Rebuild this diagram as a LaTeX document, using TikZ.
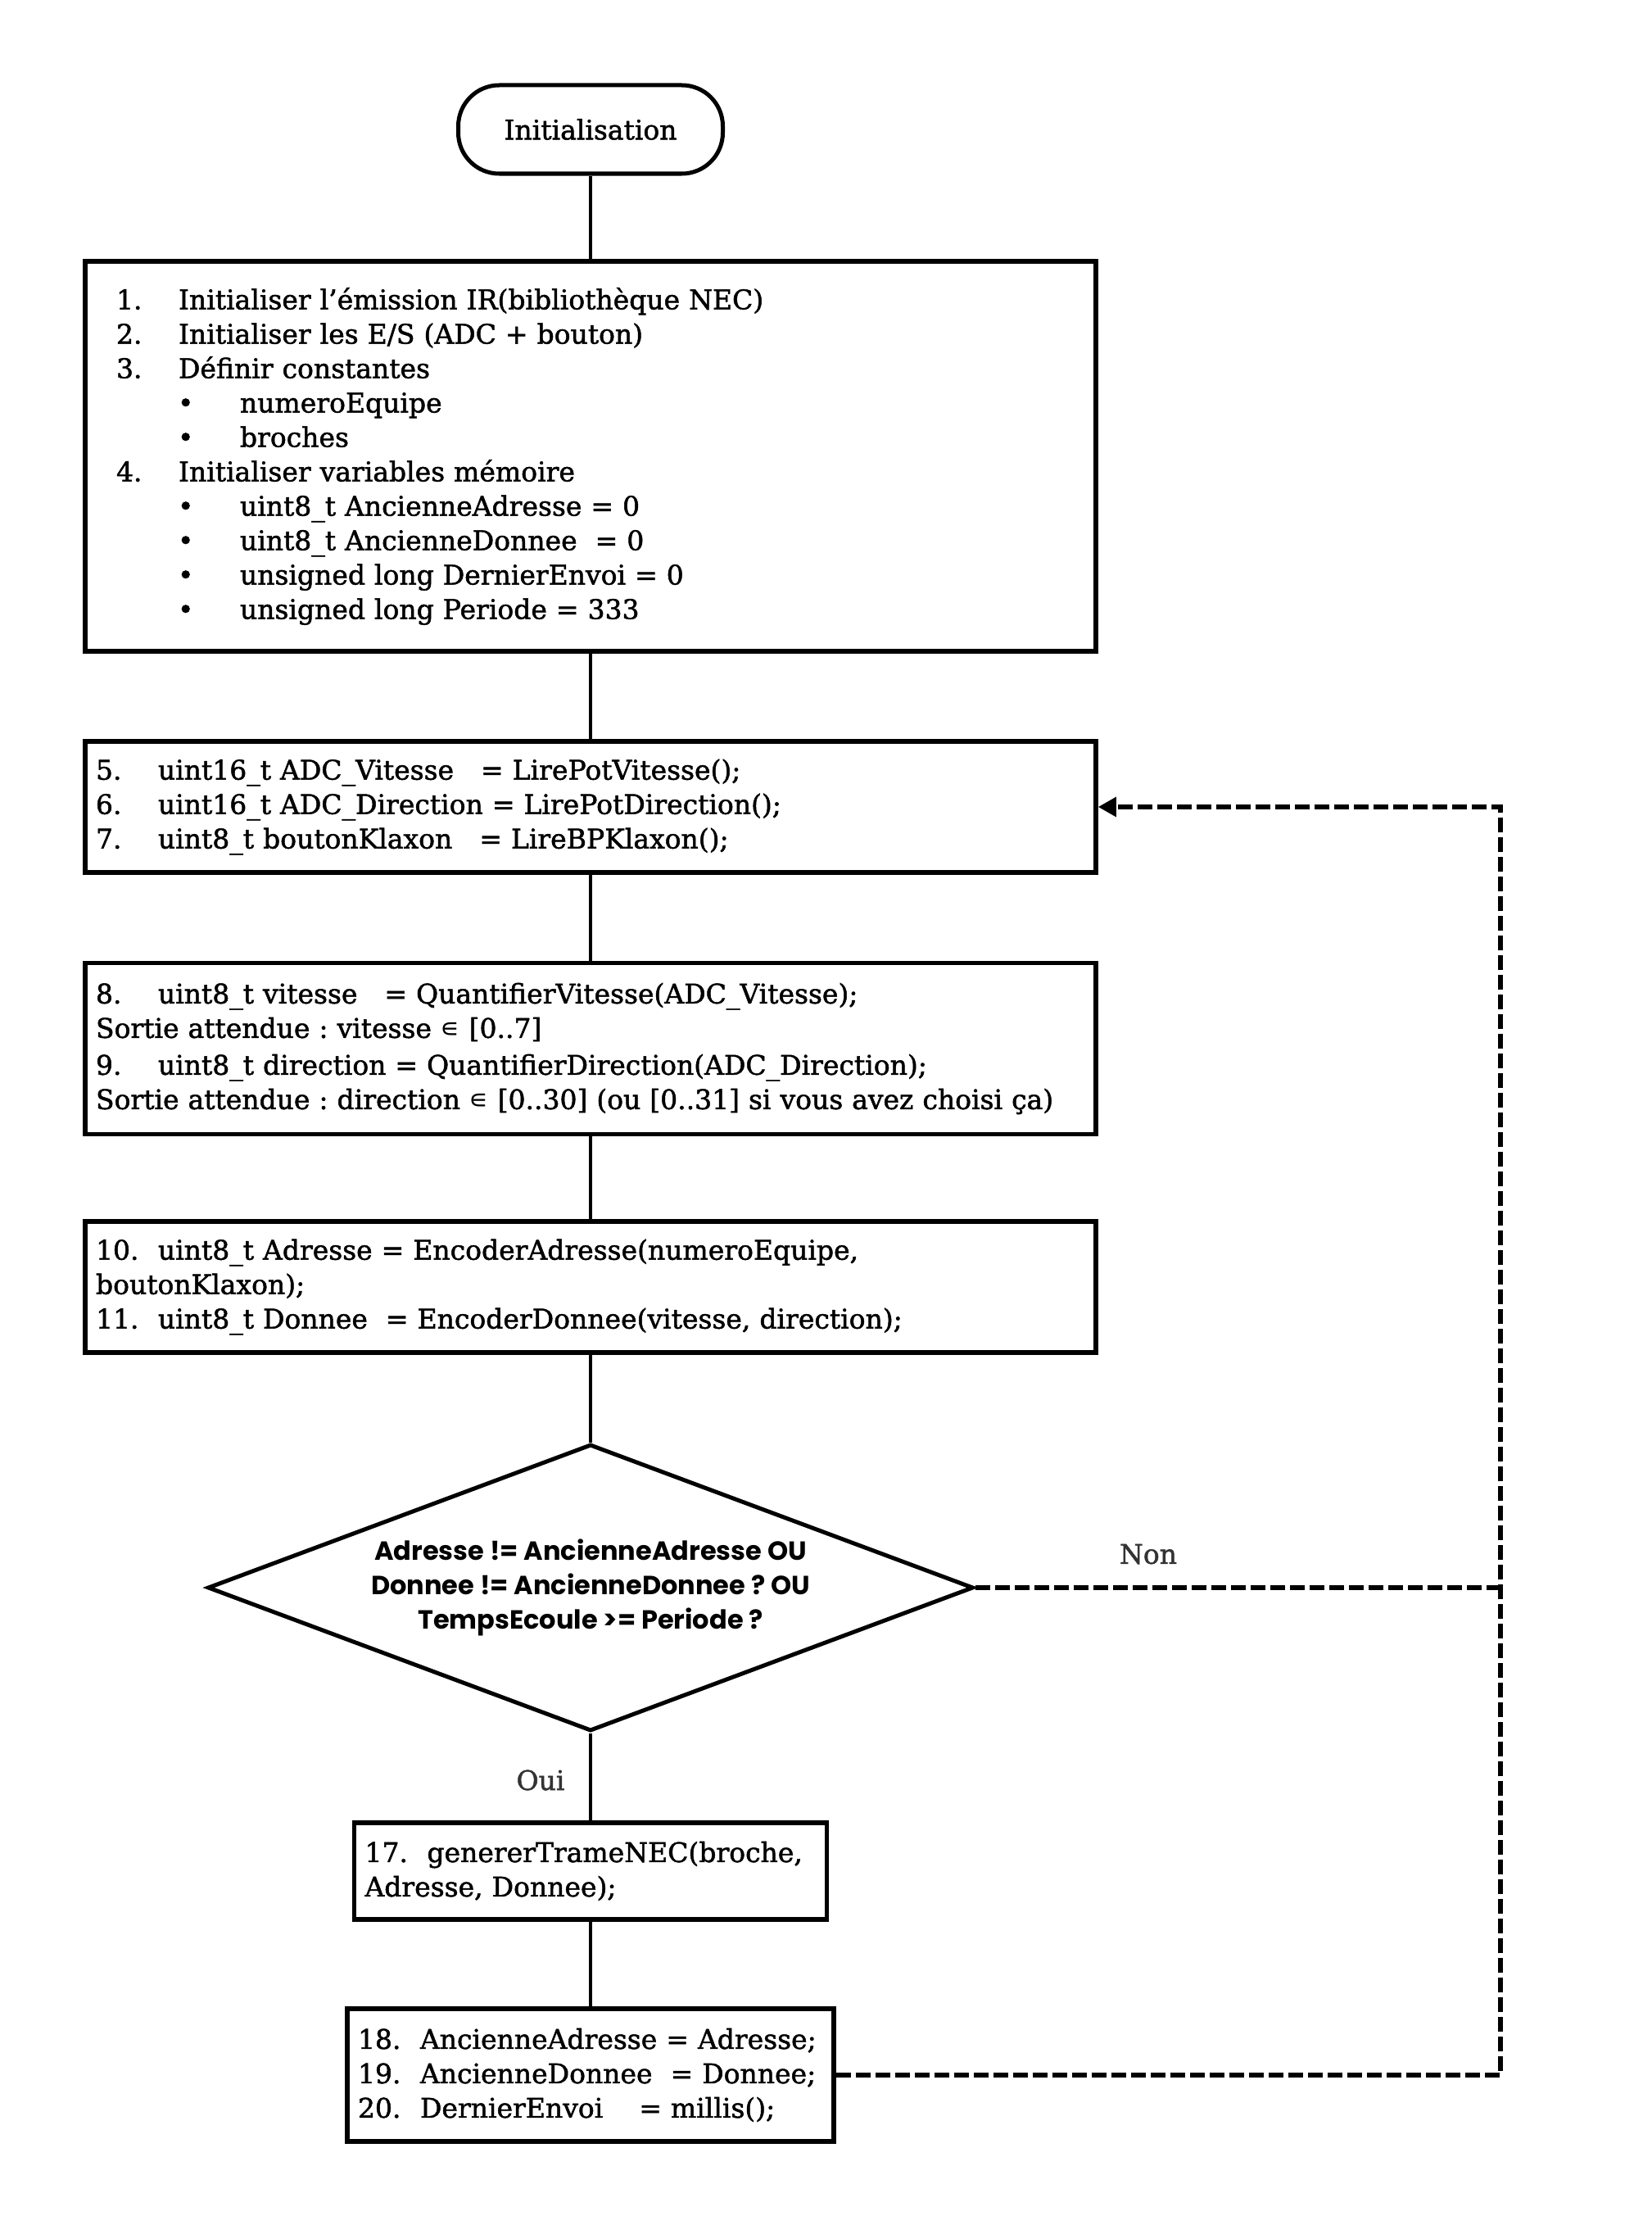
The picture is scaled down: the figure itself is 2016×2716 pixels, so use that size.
\documentclass[tikz,border=0pt]{standalone}
\usepackage{fontspec}
\setmainfont{DejaVu Serif}[FakeBold=1.5]
\newfontfamily\dfont{Poppins}
\newfontfamily\symf{DejaVu Sans}
\usetikzlibrary{arrows.meta,shapes.geometric}
\frenchspacing
\newcommand\nb[1]{\makebox[76pt][l]{#1}}
\newcommand\bul{\hspace*{100pt}\makebox[76pt][l]{•}}
\newcommand\elt{{\symf ∊}}
\tikzset{
  box/.style={draw, line width=5.5pt, rectangle, inner xsep=13pt, inner ysep=0pt,
    align=left, font=\fontsize{33}{42}\selectfont},
  conn/.style={line width=3.5pt},
  loopline/.style={line width=6pt, dash pattern=on 18pt off 6pt},
  lab/.style={font=\fontsize{33}{42}\selectfont, text=black!80, inner sep=0pt},
}
\begin{document}
\begin{tikzpicture}[x=1pt,y=-1pt]
\fill[white] (0,0) rectangle (2016,2716);
\useasboundingbox (0,0) rectangle (2016,2716);

\node[draw, line width=5pt, rounded corners=50pt, minimum width=323pt, minimum height=108pt,
  font=\fontsize{33}{42}\selectfont] (init) at (721,158) {Initialisation};

\node[box, minimum width=1234pt, minimum height=476pt, text width=1208pt] (b1) at (721,557) {%
\mbox{\hspace*{25pt}\nb{1.}Initialiser l’émission IR(bibliothèque NEC)}\\
\mbox{\hspace*{25pt}\nb{2.}Initialiser les E/S (ADC + bouton)}\\
\mbox{\hspace*{25pt}\nb{3.}Définir constantes}\\
\mbox{\bul numeroEquipe}\\
\mbox{\bul broches}\\
\mbox{\hspace*{25pt}\nb{4.}Initialiser variables mémoire}\\
\mbox{\bul uint8\_t AncienneAdresse = 0}\\
\mbox{\bul uint8\_t AncienneDonnee~~= 0}\\
\mbox{\bul unsigned long DernierEnvoi = 0}\\
\mbox{\bul unsigned long Periode = 333}};

\node[box, minimum width=1234pt, minimum height=160pt, text width=1208pt] (b2) at (721,985) {%
\mbox{\nb{5.}uint16\_t ADC\_Vitesse~~~= LirePotVitesse();}\\
\mbox{\nb{6.}uint16\_t ADC\_Direction = LirePotDirection();}\\
\mbox{\nb{7.}uint8\_t boutonKlaxon~~~= LireBPKlaxon();}};

\node[box, minimum width=1234pt, minimum height=209pt, text width=1208pt] (b3) at (721,1280) {%
\mbox{\nb{8.}uint8\_t vitesse~~~= QuantifierVitesse(ADC\_Vitesse);}\\
\mbox{Sortie attendue : vitesse \elt{} [0..7]}\\[3pt]
\mbox{\nb{9.}uint8\_t direction = QuantifierDirection(ADC\_Direction);}\\
\mbox{Sortie attendue : direction \elt{} [0..30] (ou [0..31] si vous avez choisi ça)}};

\node[box, minimum width=1234pt, minimum height=160pt, text width=1208pt] (b4) at (721,1571) {%
\mbox{\nb{10.}uint8\_t Adresse = EncoderAdresse(numeroEquipe,}\\
\mbox{boutonKlaxon);}\\
\mbox{\nb{11.}uint8\_t Donnee~~= EncoderDonnee(vitesse, direction);}};

\node[draw, diamond, aspect=2.67, line width=5pt, minimum width=935pt, minimum height=350pt,
  inner sep=0pt, align=center, font=\fontsize{32}{42}\selectfont\dfont\bfseries] (dec) at (721,1938)
  {Adresse != AncienneAdresse OU\\Donnee != AncienneDonnee ? OU\\TempsEcoule >= Periode ?};

\node[box, minimum width=577pt, minimum height=118pt, text width=551pt] (b17) at (721,2284) {%
\mbox{\nb{17.}genererTrameNEC(broche,}\\
\mbox{Adresse, Donnee);}};

\node[box, minimum width=594pt, minimum height=162pt, text width=568pt] (b18) at (721,2533) {%
\mbox{\nb{18.}AncienneAdresse = Adresse;}\\
\mbox{\nb{19.}AncienneDonnee~~= Donnee;}\\
\mbox{\nb{20.}DernierEnvoi~~~~= millis();}};

\node[lab] (non) at (1402,1897) {Non};
\node[lab] (oui) at (660,2173) {Oui};

\draw[conn] (init.south) -- (b1.north);
\draw[conn] (b1.south) -- (b2.north);
\draw[conn] (b2.south) -- (b3.north);
\draw[conn] (b3.south) -- (b4.north);
\draw[conn] (b4.south) -- (dec.north);
\draw[conn] (dec.south) -- (b17.north);
\draw[conn] (b17.south) -- (b18.north);

\coordinate (c1) at (1832,2533);
\coordinate (c2) at (1832,985);
\coordinate (c3) at (1832,1938);
\draw[loopline, -{Triangle[length=22pt,width=23pt]}] (b18.east) -- (c1) -- (c2) -- (b2.east);
\draw[loopline] (dec.east) -- (c3);
\end{tikzpicture}
\end{document}
